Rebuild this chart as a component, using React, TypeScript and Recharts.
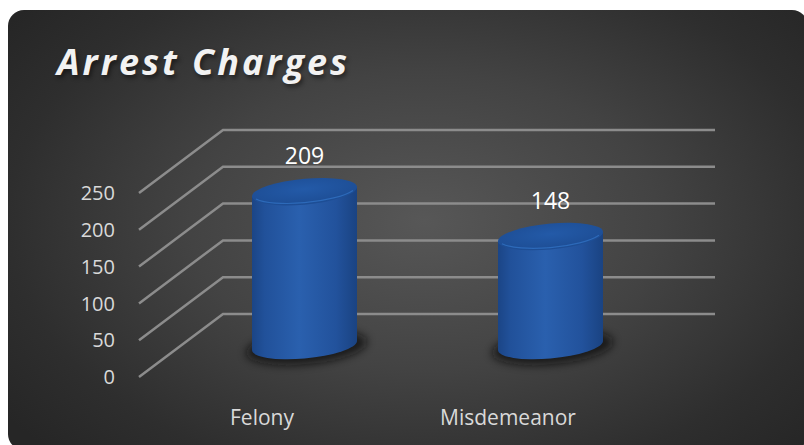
import { BarChart, Bar, XAxis, YAxis, CartesianGrid, LabelList } from 'recharts'

const categories = ['Felony', 'Misdemeanor']
const arrestCounts = [209, 148]
const yTicks = [0, 50, 100, 150, 200, 250]

const data = categories.map((name, i) => ({ name, count: arrestCounts[i] }))

// fake 3d depth: offset from front plane to back wall
const DEPTH_X = 84
const DEPTH_Y = -63
const RY = 13
const TILT = -5
const FONT = '"Open Sans", "DejaVu Sans", sans-serif'

function DepthGridLine(props: any) {
  const { x1, x2, y1 } = props
  const pts = `${x1},${y1} ${x1 + DEPTH_X},${y1 + DEPTH_Y} ${x2 + DEPTH_X},${y1 + DEPTH_Y}`
  return <polyline points={pts} fill="none" stroke="#8c8c8c" strokeWidth={2.5} />
}

function Cylinder(props: any) {
  const { x, y, width, height } = props
  const rx = width / 2
  const cx = x + rx + DEPTH_X / 2
  const top = y + DEPTH_Y / 2
  const bottom = y + height + DEPTH_Y / 2
  const body = `M${cx - rx},${top} L${cx - rx},${bottom} A${rx},${RY} 0 0 0 ${cx + rx},${bottom} L${cx + rx},${top} Z`
  // skew keeps the sides vertical but tilts the ellipses like the excel render
  return (
    <g transform={`translate(${cx} 0) skewY(${TILT}) translate(${-cx} 0)`}>
      <ellipse cx={cx + 2} cy={bottom + 2} rx={rx + 8} ry={RY + 4} fill="#0e0e0e" opacity={0.75} filter="url(#cylShadow)" />
      <path d={body} fill="url(#cylBody)" />
      <ellipse cx={cx} cy={top} rx={rx} ry={RY} fill="url(#cylTop)" />
      <path d={`M${cx - rx + 4},${top + 3} A${rx},${RY} 0 0 0 ${cx + rx - 4},${top + 3}`} fill="none" stroke="#3170c2" strokeWidth={1.2} opacity={0.8} />
    </g>
  )
}

function ValueLabel(props: any) {
  const { x, y, width, value } = props
  return (
    <text
      x={x + width / 2 + DEPTH_X / 2}
      y={y + DEPTH_Y / 2 - 34}
      textAnchor="middle"
      dominantBaseline="middle"
      fill="#ffffff"
      fontSize={23}
      fontFamily={FONT}
    >
      {value}
    </text>
  )
}

export default function App() {
  return (
    <div style={{ position: 'fixed', left: 0, top: 0, width: 804, height: 445, background: '#fff', overflow: 'hidden' }}>
      <div
        style={{
          position: 'absolute',
          left: 8,
          top: 10,
          width: 800,
          height: 440,
          borderRadius: 16,
          background: 'radial-gradient(ellipse 65% 75% at 52% 48%, #575757 0%, #434343 45%, #2e2e2e 80%, #262626 100%)',
        }}
      />
      <div
        style={{
          position: 'absolute',
          left: 57,
          top: 40,
          fontFamily: FONT,
          fontStyle: 'italic',
          fontWeight: 700,
          fontSize: 36,
          letterSpacing: 3,
          color: '#f2f2f2',
          lineHeight: '44px',
          textShadow: '2px 3px 4px rgba(0,0,0,0.45)',
        }}
      >
        Arrest Charges
      </div>
      <div style={{ position: 'absolute', left: 0, top: 0 }}>
        <BarChart width={804} height={445} data={data} margin={{ top: 193, right: 173, bottom: 38, left: 0 }}>
          <defs>
            <linearGradient id="cylBody" x1="0" y1="0" x2="1" y2="0">
              <stop offset="0%" stopColor="#1b4586" />
              <stop offset="12%" stopColor="#21519a" />
              <stop offset="45%" stopColor="#2a60ae" />
              <stop offset="80%" stopColor="#22529c" />
              <stop offset="100%" stopColor="#1a4382" />
            </linearGradient>
            <radialGradient id="cylTop" cx="50%" cy="40%" r="60%">
              <stop offset="0%" stopColor="#235aa8" />
              <stop offset="100%" stopColor="#1d4d94" />
            </radialGradient>
            <filter id="cylShadow" x="-20%" y="-50%" width="140%" height="200%">
              <feGaussianBlur stdDeviation="4" />
            </filter>
          </defs>
          <CartesianGrid vertical={false} horizontal={DepthGridLine} />
          <XAxis
            dataKey="name"
            axisLine={false}
            tickLine={false}
            tickSize={0}
            tickMargin={33}
            tick={{ fill: '#d9d9d9', fontSize: 21, fontFamily: FONT }}
          />
          <YAxis
            domain={[0, 250]}
            ticks={yTicks}
            width={139}
            axisLine={false}
            tickLine={false}
            tickSize={0}
            tickMargin={24}
            tick={{ fill: '#d9d9d9', fontSize: 20, fontFamily: FONT }}
          />
          <Bar dataKey="count" barSize={105} shape={Cylinder} isAnimationActive={false}>
            <LabelList dataKey="count" content={ValueLabel} />
          </Bar>
        </BarChart>
      </div>
    </div>
  )
}
